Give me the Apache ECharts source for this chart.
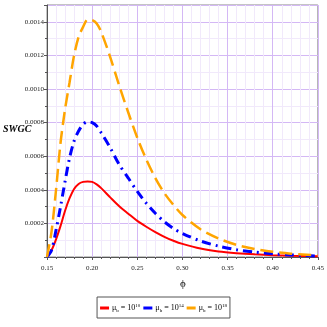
<!DOCTYPE html>
<html><head><meta charset="utf-8">
<script src="https://cdn.jsdelivr.net/npm/echarts@6/dist/echarts.min.js"></script>
<style>html,body{margin:0;padding:0;background:#fff}#c{width:327px;height:327px}</style>
</head><body><div id="c"></div>
<script>
const phi = [0.15,0.155,0.16,0.165,0.17,0.175,0.18,0.185,0.19,0.195,0.2,0.205,0.21,0.22,0.23,0.24,0.25,0.26,0.27,0.28,0.29,0.30,0.32,0.34,0.36,0.38,0.40,0.42,0.45];
const red = [0,0.00004,0.000105,0.000185,0.000275,0.00035,0.000405,0.000435,0.000447,0.00045,0.000447,0.000432,0.00041,0.000355,0.000302,0.000258,0.000215,0.00018,0.000148,0.00012,0.000097,0.000078,0.00005,0.000033,0.000023,0.000016,0.000011,0.000008,0.000005];
const blue = [0,0.00004,0.00016,0.0003,0.00045,0.00059,0.00069,0.00075,0.00079,0.000805,0.0008,0.00078,0.00074,0.00065,0.00055,0.00047,0.00039,0.00032,0.00026,0.00021,0.00017,0.00014,0.000095,0.000065,0.000043,0.000029,0.000019,0.000012,0.000006];
const orange = [0,0.00015,0.0004,0.00068,0.00088,0.00104,0.0012,0.00131,0.00137,0.001413,0.00141,0.00139,0.00134,0.00119,0.00102,0.00086,0.00071,0.00058,0.00047,0.00038,0.00031,0.00025,0.000165,0.00011,0.000072,0.000048,0.000031,0.00002,0.00001];
const seriesNames = ['10','14','18'];
const xTicks = [0.15,0.20,0.25,0.30,0.35,0.40,0.45];
const yTicks = [0.0002,0.0004,0.0006,0.0008,0.0010,0.0012,0.0014];

const font = 'Liberation Serif';
const pair = (ys) => phi.map((p,i)=>[p,ys[i]]);
const chart = echarts.init(document.getElementById('c'));
const rich = {
  m:{fontFamily:font,fontSize:8,color:'#000'},
  s:{fontFamily:font,fontSize:5,color:'#000',verticalAlign:'bottom',padding:[5,0,0,0]},
  p:{fontFamily:font,fontSize:5,color:'#000',verticalAlign:'top',padding:[0,0,4,0]}
};
chart.setOption({
  animation:false,
  grid:{left:47,right:6,top:5,bottom:70,show:true,borderColor:'#8a8a8a',borderWidth:1},
  xAxis:{type:'value',min:0.15,max:0.45,interval:0.05,
    axisLine:{lineStyle:{color:'#555',width:1}},
    axisTick:{show:true,length:3,lineStyle:{color:'#555'}},
    minorTick:{show:true,splitNumber:5,length:2,lineStyle:{color:'#555'}},
    splitLine:{show:true,lineStyle:{color:'#d4b8f5',width:1}},
    minorSplitLine:{show:true,lineStyle:{color:'#f1e9fb',width:1}},
    axisLabel:{fontFamily:font,fontSize:7,color:'#222',margin:8,
      formatter:v=>xTicks.some(t=>Math.abs(t-v)<1e-6)?v.toFixed(2):''}
  },
  yAxis:{type:'value',min:0,max:0.0015,interval:0.0002,
    axisLine:{show:true,lineStyle:{color:'#555',width:1}},
    axisTick:{show:true,length:3,lineStyle:{color:'#555'}},
    minorTick:{show:true,splitNumber:2,length:2,lineStyle:{color:'#555'}},
    splitLine:{show:true,lineStyle:{color:'#d4b8f5',width:1}},
    minorSplitLine:{show:true,lineStyle:{color:'#f1e9fb',width:1}},
    axisLabel:{fontFamily:font,fontSize:7,color:'#222',margin:3,
      formatter:v=>yTicks.some(t=>Math.abs(t-v)<1e-9)?v.toFixed(4):''}
  },
  graphic:[
    {type:'text',left:3,top:124,style:{text:'SWGC',font:'italic bold 10px "Liberation Serif"',fill:'#000'}},
    {type:'text',left:180,top:279,style:{text:'ϕ',font:'11px "Liberation Serif"',fill:'#000'}}
  ],
  legend:{left:'center',top:297,itemWidth:9,itemHeight:3,itemGap:3,orient:'horizontal',
    padding:[6,3,5,3],borderColor:'#555',borderWidth:1,
    data:seriesNames.map((_,i)=>({name:'s'+i,icon:'rect'})),
    formatter:name=>{const i=+name.slice(1);return '{m|μ}{s|b}{m| = 10}{p|'+seriesNames[i]+'}';},
    textStyle:{rich:rich,padding:[0,0,0,-2]}
  },
  series:[
    {name:'s0',type:'line',data:pair(red),smooth:0.3,showSymbol:false,color:'#ff0000',lineStyle:{width:2,color:'#ff0000'}},
    {name:'s1',type:'line',data:pair(blue),smooth:0.3,showSymbol:false,color:'#0000ff',lineStyle:{width:3,color:'#0000ff',type:[9,5,2,5]}},
    {name:'s2',type:'line',data:pair(orange),smooth:0.3,showSymbol:false,color:'#ffa500',lineStyle:{width:2.5,color:'#ffa500',type:[13,6]}}
  ]
});
</script></body></html>
